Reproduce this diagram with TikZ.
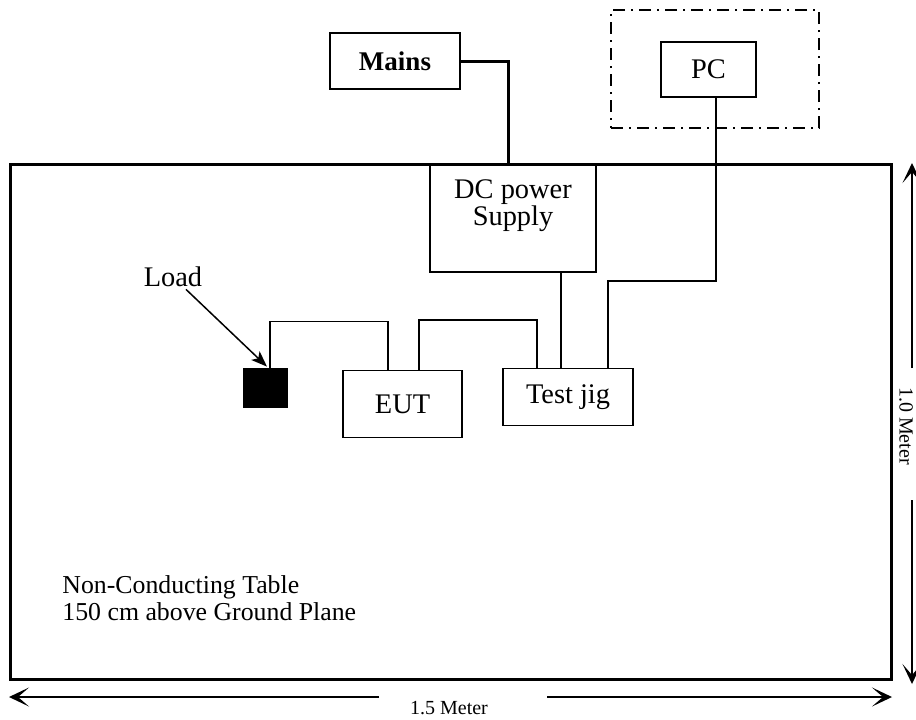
\documentclass[tikz,border=0pt]{standalone}
\usepackage{fontspec}
\setmainfont{Liberation Serif}
\usetikzlibrary{arrows.meta,calc}
\begin{document}
\begin{tikzpicture}[x=0.5pt,y=-0.5pt,
  box/.style={draw, line width=0.75pt, inner sep=0pt, font=\fontsize{14.2}{16}\selectfont},
  wire/.style={line width=0.75pt},
  thickwire/.style={line width=1.5pt},
  dimarrow/.style={line width=0.8pt, -{Stealth[length=10pt,width=9.5pt,inset=5.5pt]}},
  dimlabel/.style={inner sep=0pt, font=\fontsize{10}{12}\selectfont},
  plain/.style={inner sep=0pt, font=\fontsize{14.2}{13.5}\selectfont}
]
\useasboundingbox (0,0) rectangle (916,719);
% table
\node[draw, line width=1.5pt, minimum width=440.5pt, minimum height=257.5pt, inner sep=0pt] (table) at (450.5,421.5) {};
\node[inner sep=0pt, font=\fontsize{12.9}{13.5}\selectfont, anchor=west, align=left] (tabletext) at (62,598.5) {Non-Conducting Table\\150 cm above Ground Plane};
% boxes
\node[box, minimum width=65pt, minimum height=28pt, font=\fontsize{13.5}{16}\selectfont\bfseries] (mains) at (395,61) {Mains};
\node[draw, line width=1pt, dash pattern=on 6pt off 3pt on 1pt off 3pt, minimum width=104pt, minimum height=59pt, inner sep=0pt] (pcframe) at (715,69) {};
\node[box, minimum width=47.5pt, minimum height=27.5pt] (pc) at (708.5,69.5) {PC};
\node[box, minimum width=83pt, minimum height=53.5pt] (dc) at (513,218.5) {};
\node[plain, align=center] (dctext) at (513,206) {DC power\\Supply};
\node[box, minimum width=65pt, minimum height=28.5pt] (jig) at (568,397) {Test jig};
\node[box, minimum width=59.5pt, minimum height=33.5pt] (eut) at (402.5,404) {EUT};
\node[fill=black, minimum width=22.5pt, minimum height=20pt, inner sep=0pt] (load) at (265.5,388) {};
\node[plain] (loadlab) at (173,277) {Load};
% connections
\draw[thickwire] (mains.east) -| ($(dc.north)+(-5,0)$);
\draw[wire] ($(pc.south)+(7.5,0)$) |- ($(jig.north)+(40,-87)$) -- ($(jig.north)+(40,0)$);
\draw[wire] ($(dc.south)+(48,0)$) -- ($(jig.north)+(-7,0)$);
\draw[wire] ($(eut.north)+(-14.5,0)$) |- ($(load.north)+(4.5,-46)$) -- ($(load.north)+(4.5,0)$);
\draw[wire] ($(eut.north)+(16.5,0)$) |- ($(jig.north)+(-31,-48)$) -- ($(jig.north)+(-31,0)$);
\draw[line width=0.75pt, -{Stealth[length=8pt,width=6pt,inset=2pt]}] ($(loadlab.south)+(13,2)$) -- ($(load.north)+(1.5,-1)$);
% dimensions
\node[dimlabel] (hlab) at (449,708) {1.5 Meter};
\coordinate (hl) at (9,697);
\coordinate (hl1) at (379,697);
\coordinate (hr1) at (547,697);
\coordinate (hr) at (892,697);
\draw[dimarrow] (hl1) -- (hl);
\draw[dimarrow] (hr1) -- (hr);
\node[dimlabel, rotate=-90] (vlab) at (906,426) {1.0 Meter};
\coordinate (vt) at (912,163);
\coordinate (vt1) at (912,368);
\coordinate (vb1) at (912,500);
\coordinate (vb) at (912,684);
\draw[dimarrow] (vt1) -- (vt);
\draw[dimarrow] (vb1) -- (vb);
\end{tikzpicture}
\end{document}
